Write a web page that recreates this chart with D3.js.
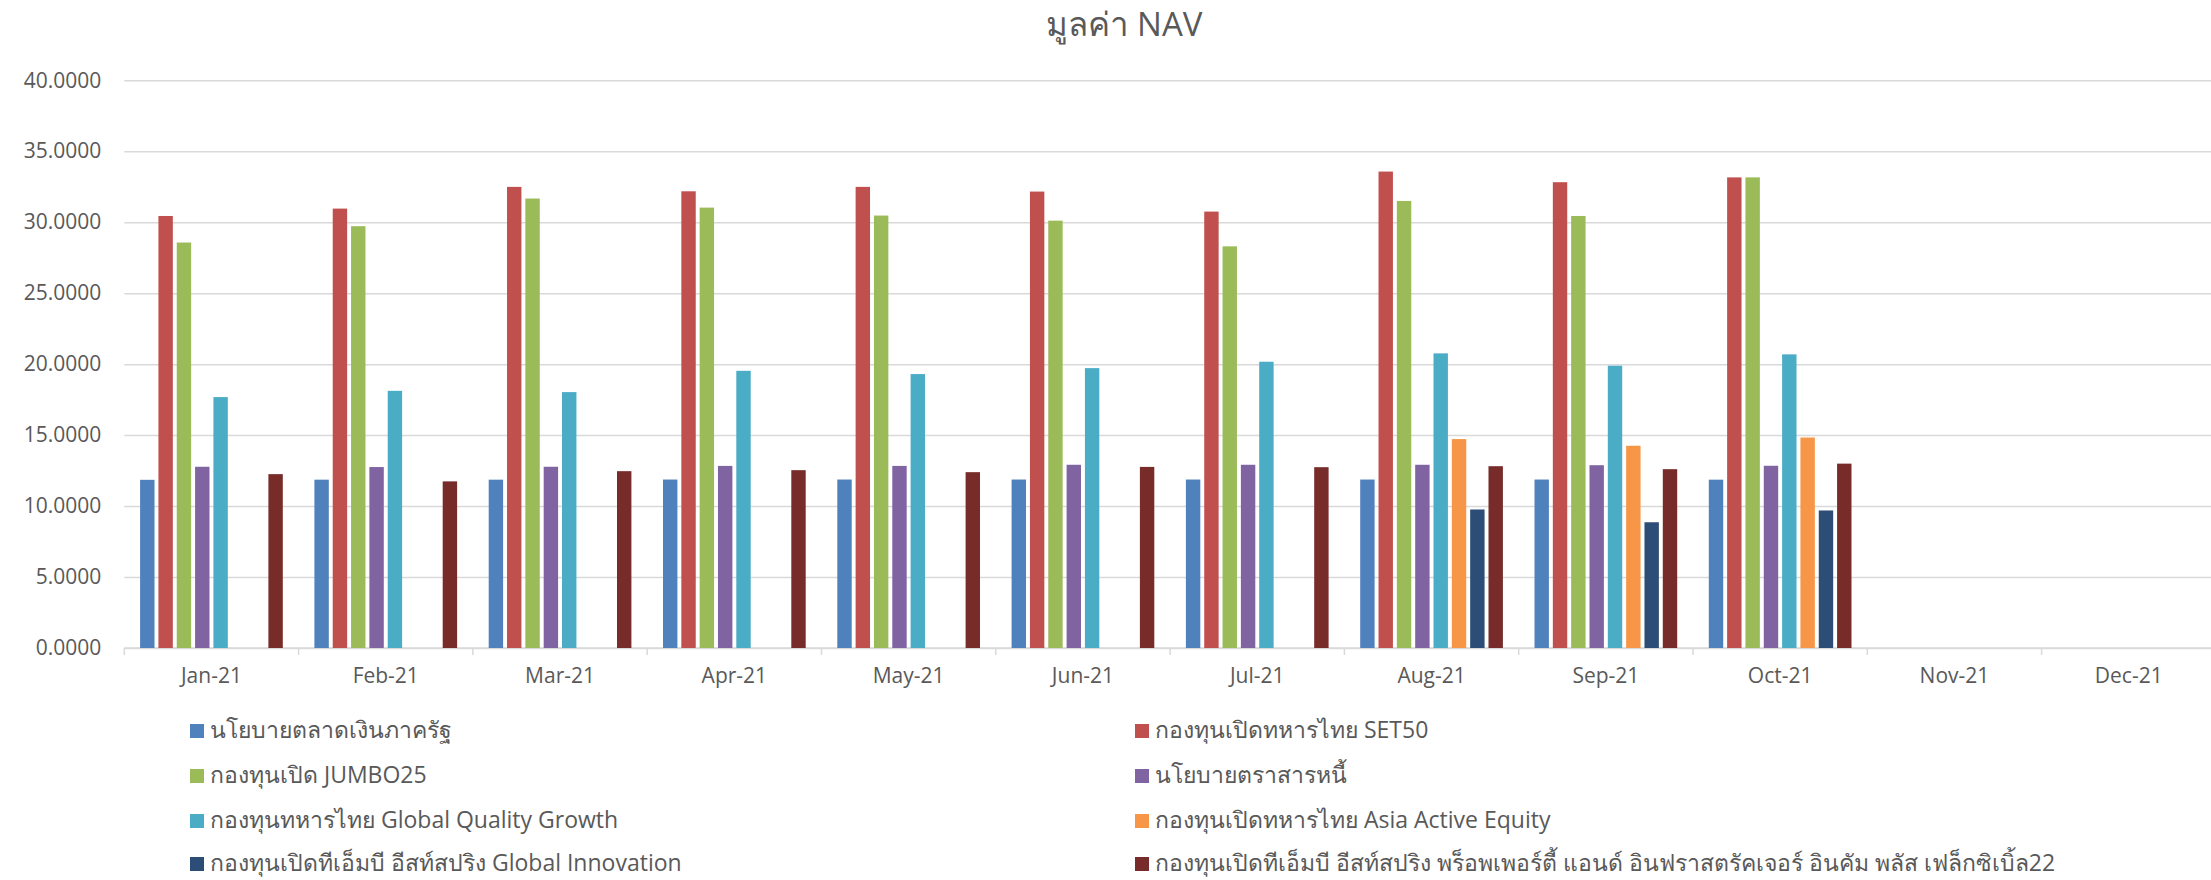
<!DOCTYPE html>
<html>
<head>
<meta charset="utf-8">
<script src="https://cdn.jsdelivr.net/npm/d3@7"></script>
<style>
  html, body { margin: 0; padding: 0; background: #ffffff; overflow: hidden; }
  svg { display: block; }
  text { fill: #595959; }
</style>
</head>
<body>
<svg id="chart" width="2211" height="880"></svg>
<script>
const titleText = "มูลค่า NAV";
const categories = ["Jan-21","Feb-21","Mar-21","Apr-21","May-21","Jun-21","Jul-21","Aug-21","Sep-21","Oct-21","Nov-21","Dec-21"];
const seriesNames = [
  "นโยบายตลาดเงินภาครัฐ",
  "กองทุนเปิดทหารไทย SET50",
  "กองทุนเปิด JUMBO25",
  "นโยบายตราสารหนี้",
  "กองทุนทหารไทย Global Quality Growth",
  "กองทุนเปิดทหารไทย Asia Active Equity",
  "กองทุนเปิดทีเอ็มบี อีสท์สปริง Global Innovation",
  "กองทุนเปิดทีเอ็มบี อีสท์สปริง พร็อพเพอร์ตี้ แอนด์ อินฟราสตรัคเจอร์ อินคัม พลัส เฟล็กซิเบิ้ล22"
];
const seriesColors = ["#4F81BD","#C0504D","#9BBB59","#8064A2","#4BACC6","#F79646","#2C4D75","#772C2A"];

const moneyMarket   = [11.85, 11.86, 11.86, 11.87, 11.87, 11.87, 11.87, 11.87, 11.87, 11.86, null, null];
const set50         = [30.44, 30.96, 32.49, 32.18, 32.49, 32.16, 30.75, 33.57, 32.82, 33.16, null, null];
const jumbo25       = [28.57, 29.72, 31.67, 31.03, 30.47, 30.11, 28.30, 31.50, 30.44, 33.16, null, null];
const fixedIncome   = [12.77, 12.75, 12.77, 12.83, 12.83, 12.91, 12.91, 12.91, 12.88, 12.84, null, null];
const globalQuality = [17.68, 18.12, 18.03, 19.53, 19.30, 19.72, 20.17, 20.76, 19.89, 20.69, null, null];
const asiaActive    = [null, null, null, null, null, null, null, 14.72, 14.25, 14.83, null, null];
const globalInnov   = [null, null, null, null, null, null, null, 9.76, 8.86, 9.69, null, null];
const propertyInfra = [12.25, 11.74, 12.46, 12.53, 12.39, 12.76, 12.74, 12.81, 12.60, 12.99, null, null];

const seriesValues = [moneyMarket, set50, jumbo25, fixedIncome, globalQuality, asiaActive, globalInnov, propertyInfra];
const yTicks = [0, 5, 10, 15, 20, 25, 30, 35, 40];

const svg = d3.select("#chart");
const plotLeft = 124.3, catWidth = 174.3;
const plotRight = plotLeft + catWidth * categories.length;
const plotTop = 80.3, plotBottom = 648;
const gridColor = "#D9D9D9";
const fontFam = "'Open Sans', 'Noto Sans', sans-serif";

const x0 = d3.scaleBand().domain(categories).range([plotLeft, plotRight]).padding(0);
const x1 = d3.scaleBand().domain(d3.range(seriesNames.length)).range([0, x0.bandwidth()])
  .paddingInner(0.214).paddingOuter(0.862);
const y = d3.scaleLinear().domain([0, 40]).range([plotBottom, plotTop]);

// Title
svg.append("text")
  .attr("x", 1124).attr("y", 36)
  .attr("text-anchor", "middle")
  .style("font-family", fontFam)
  .style("font-size", "33px")
  .text(titleText);

// Y axis with gridlines
const yAxis = d3.axisLeft(y).tickValues(yTicks).tickFormat(d3.format(".4f"))
  .tickSize(-(plotRight - plotLeft)).tickPadding(23);
const yg = svg.append("g").attr("transform", `translate(${plotLeft},0)`).call(yAxis);
yg.select(".domain").remove();
yg.selectAll(".tick line").attr("stroke", gridColor).attr("stroke-width", 1.5);
yg.selectAll(".tick text").style("font-family", fontFam).style("font-size", "21px").attr("fill", "#595959");

// X axis: labels at centres, ticks at boundaries
const xAxis = d3.axisBottom(x0).tickSize(0).tickPadding(20);
const xg = svg.append("g").attr("transform", `translate(0,${plotBottom})`).call(xAxis);
xg.select(".domain").remove();
xg.selectAll(".tick text").style("font-family", fontFam).style("font-size", "21px").attr("fill", "#595959");

const boundaries = categories.map(c => x0(c)).concat([plotRight]);
svg.append("line").attr("x1", plotLeft).attr("x2", plotRight)
  .attr("y1", plotBottom).attr("y2", plotBottom)
  .attr("stroke", gridColor).attr("stroke-width", 1.5);
svg.append("g").selectAll("line").data(boundaries).join("line")
  .attr("x1", d => d).attr("x2", d => d)
  .attr("y1", plotBottom).attr("y2", plotBottom + 7)
  .attr("stroke", gridColor).attr("stroke-width", 1.5);

// Bars
const barData = [];
seriesValues.forEach((vals, si) => {
  vals.forEach((v, ci) => {
    if (v !== null) barData.push({ si, cat: categories[ci], v });
  });
});
svg.append("g").selectAll("rect").data(barData).join("rect")
  .attr("x", d => x0(d.cat) + x1(d.si))
  .attr("width", x1.bandwidth())
  .attr("y", d => y(d.v))
  .attr("height", d => y(0) - y(d.v))
  .attr("fill", d => seriesColors[d.si]);

// Legend: two columns
const legendColX = [190, 1135];
const legendRowY = [731, 776, 821, 864];
const lg = svg.append("g").selectAll("g").data(seriesNames).join("g")
  .attr("transform", (d, i) => `translate(${legendColX[i % 2]},${legendRowY[Math.floor(i / 2)]})`);
lg.append("rect").attr("x", 0).attr("y", -7).attr("width", 14).attr("height", 14)
  .attr("fill", (d, i) => seriesColors[i]);
lg.append("text").attr("x", 20).attr("y", 0).attr("dy", "0.32em")
  .style("font-family", fontFam).style("font-size", "23px")
  .text(d => d);
</script>
</body>
</html>
